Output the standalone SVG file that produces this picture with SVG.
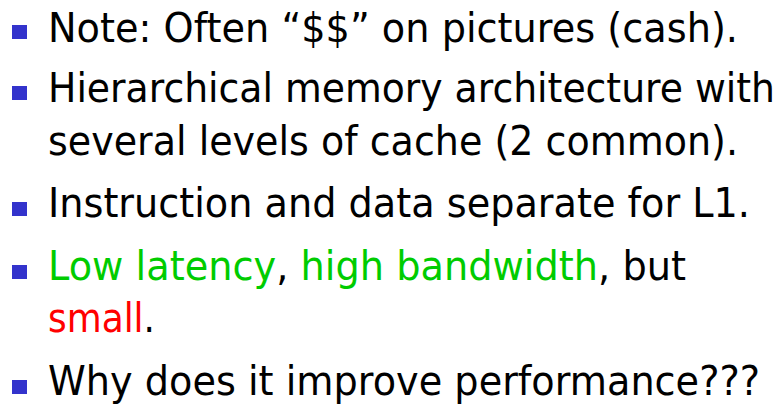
<svg xmlns="http://www.w3.org/2000/svg" width="783" height="408" viewBox="0 0 783 408">
<style>
.t{font-family:"DejaVu Sans","Noto Sans",sans-serif;font-size:41px;fill:#000}
.b{fill:#3333CC}
.g{fill:#00CC00}
.r{fill:#FF0000}
</style>
<rect width="783" height="408" fill="#fff"/>
<g id="bullet1"><rect class="b" x="12" y="25" width="15" height="14"/>
<text class="t" transform="matrix(0.9309 0 0 1 48 42)" x="0" y="0" textLength="741.2" lengthAdjust="spacingAndGlyphs">Note: Often “$$” on pictures (cash).</text></g>
<g id="bullet2"><rect class="b" x="12" y="86" width="15" height="14"/>
<text class="t" transform="matrix(0.9174 0 0 1 48 102)" x="0" y="0" textLength="792.5" lengthAdjust="spacingAndGlyphs">Hierarchical memory architecture with</text>
<text class="t" transform="matrix(0.9273 0 0 1 48 155)" x="0" y="0" textLength="744.1" lengthAdjust="spacingAndGlyphs">several levels of cache (2 common).</text></g>
<g id="bullet3"><rect class="b" x="12" y="202" width="15" height="14"/>
<text class="t" transform="matrix(0.9318 0 0 1 48 217)" x="0" y="0" textLength="753.4" lengthAdjust="spacingAndGlyphs">Instruction and data separate for L1.</text></g>
<g id="bullet4"><rect class="b" x="12" y="265" width="15" height="14"/>
<text class="t" transform="matrix(0.9329 0 0 1 48 280)" x="0" y="0" textLength="683.9" lengthAdjust="spacingAndGlyphs"><tspan class="g">Low latency</tspan>, <tspan class="g">high bandwidth</tspan>, but</text>
<text class="t" transform="matrix(0.8756 0 0 1 48 332)" x="0" y="0" textLength="122.2" lengthAdjust="spacingAndGlyphs"><tspan class="r">small</tspan>.</text></g>
<g id="bullet5"><rect class="b" x="12" y="380" width="15" height="14"/>
<text class="t" transform="matrix(0.9301 0 0 1 48 395)" x="0" y="0" textLength="765.5" lengthAdjust="spacingAndGlyphs">Why does it improve performance???</text></g>
</svg>
